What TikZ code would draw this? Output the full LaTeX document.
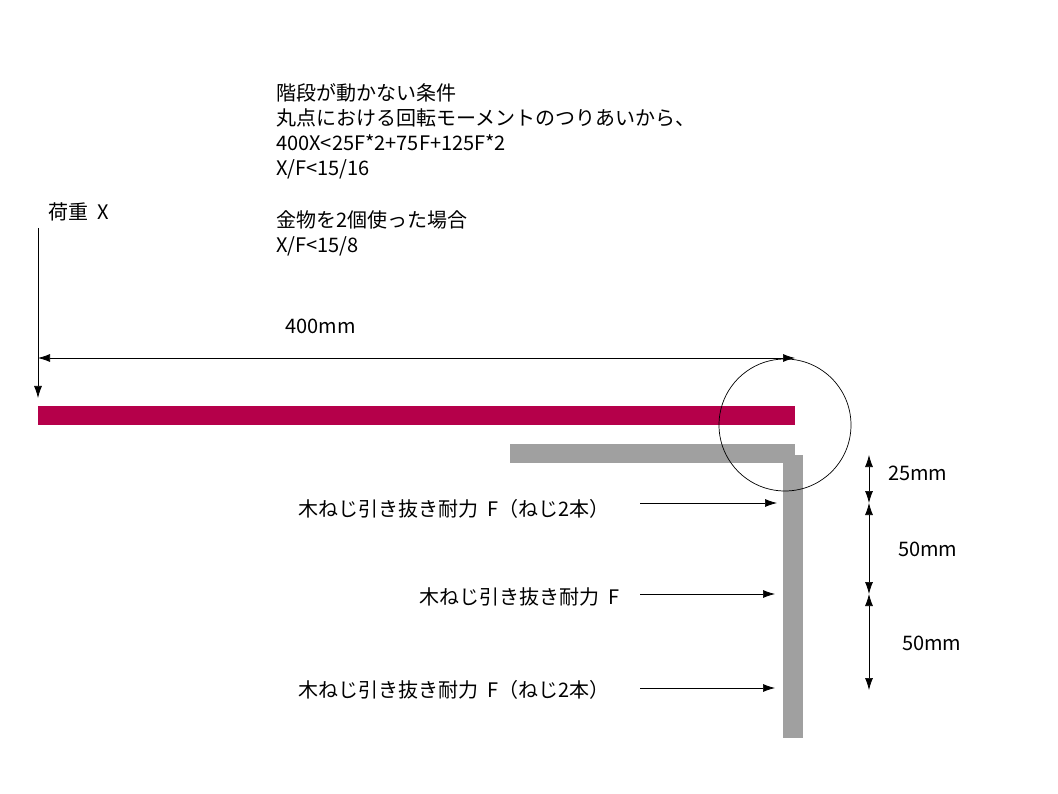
\documentclass[tikz,border=0pt]{standalone}
\usepackage{fontspec}
\setmainfont{Noto Sans CJK JP}
\begin{document}
\begin{tikzpicture}[x=1pt,y=-1pt,
  txt/.style={anchor=west,inner sep=0pt,font=\fontsize{20}{22}\selectfont},
  arr/.style={-{Latex[length=12pt,width=8pt]},line width=0.7pt},
  darr/.style={{Latex[length=12pt,width=8pt]}-{Latex[length=12pt,width=8pt]},line width=0.7pt}]
\usetikzlibrary{arrows.meta}
\useasboundingbox (0,0) rectangle (1058,794);
\node[txt] (t1) at (276,93) {階段が動かない条件};
\node[txt] (t2) at (276,118) {丸点における回転モーメントのつりあいから、};
\node[txt] (t3) at (276,143) {400X<25F*2+75F+125F*2};
\node[txt] (t4) at (276,169) {X/F<15/16};
\node[txt] (t5) at (276,220) {金物を2個使った場合};
\node[txt] (t6) at (276,246) {X/F<15/8};
\node[txt] (load) at (48,212) {荷重\ \ X};
\coordinate (la) at (38,228); \coordinate (lb) at (38,398);
\draw[arr] (la) -- (lb);
\coordinate (da) at (38,358); \coordinate (db) at (795,358);
\draw[darr] (da) -- (db);
\node[txt] (d400) at (285,326) {400mm};
\fill[fill={rgb,255:red,181;green,0;blue,74}] (38,406) rectangle (795,425);
\fill[fill={rgb,255:red,160;green,160;blue,160}] (510,444) rectangle (795,463);
\fill[fill={rgb,255:red,160;green,160;blue,160}] (783,455) rectangle (803,738);
\node[draw,circle,minimum size=132pt,inner sep=0pt,line width=0.7pt] (c) at (785,425) {};
\node[txt,anchor=east] (f1) at (610,509) {木ねじ引き抜き耐力\ \ F（ねじ2本）};
\node[txt,anchor=east] (f2) at (620,597) {木ねじ引き抜き耐力\ \ F};
\node[txt,anchor=east] (f3) at (610,690) {木ねじ引き抜き耐力\ \ F（ねじ2本）};
\coordinate (a1) at (640,503); \coordinate (b1) at (777,503);
\coordinate (a2) at (640,594); \coordinate (b2) at (775,594);
\coordinate (a3) at (640,688); \coordinate (b3) at (775,688);
\draw[arr] (a1) -- (b1); \draw[arr] (a2) -- (b2); \draw[arr] (a3) -- (b3);
\coordinate (v0) at (869,455); \coordinate (v1) at (869,503);
\coordinate (v2) at (869,594); \coordinate (v3) at (869,690);
\draw[darr] (v0) -- (v1); \draw[darr] (v1) -- (v2); \draw[darr] (v2) -- (v3);
\node[txt] (m1) at (888,473) {25mm};
\node[txt] (m2) at (898,549) {50mm};
\node[txt] (m3) at (902,643) {50mm};
\end{tikzpicture}
\end{document}
